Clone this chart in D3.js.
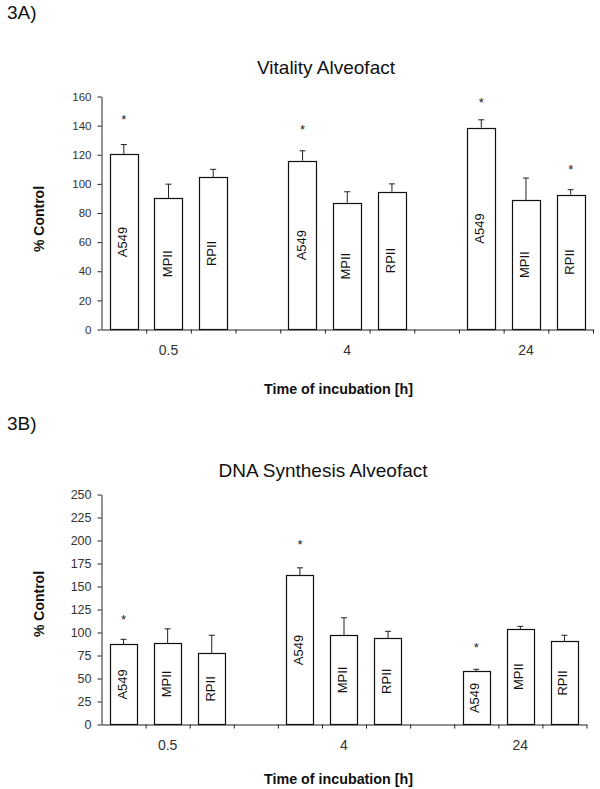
<!DOCTYPE html>
<html><head><meta charset="utf-8">
<script src="https://cdn.jsdelivr.net/npm/d3@7"></script>
<style>
html,body{margin:0;padding:0;background:#fff;}
svg{display:block;font-family:"Liberation Sans",Arial,sans-serif;}
</style></head>
<body>
<svg id="c" width="600" height="789"></svg>
<script>
// ---- data ----
const groups = ["0.5", "4", "24"];
const cells = ["A549", "MPII", "RPII"];
const vitalityTitle = "Vitality Alveofact";
const vitalityTicks = [0, 20, 40, 60, 80, 100, 120, 140, 160];
const vitalityValues = [[120.2, 90.2, 104.4], [115.9, 87.0, 94.6], [138.7, 89.0, 92.7]];
const vitalityErrors = [[6.8, 9.6, 5.6], [6.8, 7.6, 5.4], [5.3, 15.0, 3.3]];
const vitalityStars = [[145.6, null, null], [139.0, null, null], [157.3, null, 111.3]];
const dnaTitle = "DNA Synthesis Alveofact";
const dnaTicks = [0, 25, 50, 75, 100, 125, 150, 175, 200, 225, 250];
const dnaValues = [[87.2, 88.3, 77.4], [162.0, 97.0, 94.0], [57.9, 103.8, 90.4]];
const dnaErrors = [[5.4, 15.7, 19.6], [8.3, 19.0, 7.3], [2.1, 2.9, 6.6]];
const dnaStars = [[117.1, null, null], [198.5, null, null], [86.4, null, null]];
const yLabel = "% Control";
const xLabel = "Time of incubation [h]";

const svg = d3.select("#c");
const FONT = '"Liberation Sans",Arial,sans-serif';

function panel(o) {
  const g = svg.append("g");
  const nSlots = groups.length * 4 - 1;
  const y = d3.scaleLinear().domain([0, o.ticks[o.ticks.length - 1]]).range([o.yBottom, o.yTop]);
  const xb = d3.scaleLinear().domain([0, nSlots]).range([o.xLeft, o.xRight]);
  const band = d3.scaleBand().domain(d3.range(nSlots)).range([o.xLeft, o.xRight])
    .paddingInner(o.pad).paddingOuter(o.pad / 2);

  // panel letter & title
  g.append("text").attr("x", 7).attr("y", o.letterY).attr("font-size", 19).attr("fill", "#111").text(o.letter);
  g.append("text").attr("x", o.titleX).attr("y", o.titleY).attr("text-anchor", "middle")
    .attr("font-size", 19).attr("fill", "#111").text(o.title);

  // y axis
  const ya = g.append("g").attr("transform", `translate(${o.xLeft},0)`)
    .call(d3.axisLeft(y).tickValues(o.ticks).tickSize(4).tickSizeOuter(0).tickPadding(6));
  ya.select(".domain").attr("stroke", "#222");
  ya.selectAll(".tick line").attr("stroke", "#222");
  ya.selectAll(".tick text").attr("font-family", FONT).attr("font-size", o.yTickFont).attr("fill", "#333");

  // x axis (slot boundaries)
  const xa = g.append("g").attr("transform", `translate(0,${o.yBottom})`)
    .call(d3.axisBottom(xb).tickValues(d3.range(1, nSlots + 1)).tickSize(4).tickSizeOuter(0).tickFormat(""));
  xa.select(".domain").attr("stroke", "#222");
  xa.selectAll(".tick line").attr("stroke", "#222");

  // category labels
  g.selectAll(".cat").data(groups).enter().append("text")
    .attr("x", (d, i) => xb(i * 4 + 1.5)).attr("y", o.catY)
    .attr("text-anchor", "middle").attr("font-size", 14).attr("fill", "#333").text(d => d);

  // bars
  const rows = [];
  o.values.forEach((arr, gi) => arr.forEach((v, ci) => rows.push({
    slot: gi * 4 + ci, v, e: o.errors[gi][ci], s: o.stars[gi][ci], name: cells[ci]
  })));
  const bw = band.bandwidth();
  rows.forEach(r => {
    const cx = band(r.slot) + bw / 2;
    // error bar
    g.append("line").attr("x1", cx).attr("x2", cx).attr("y1", y(r.v)).attr("y2", y(r.v + r.e))
      .attr("stroke", "#222").attr("stroke-width", 1);
    g.append("line").attr("x1", cx - 3).attr("x2", cx + 3).attr("y1", y(r.v + r.e)).attr("y2", y(r.v + r.e))
      .attr("stroke", "#222").attr("stroke-width", 1);
    g.append("rect").attr("x", Math.round(band(r.slot)) + 0.5).attr("y", Math.round(y(r.v)) + 0.5)
      .attr("width", Math.round(bw)).attr("height", y(0) - Math.round(y(r.v)) - 0.5)
      .attr("fill", "#fff").attr("stroke", "#111").attr("stroke-width", 1.2);
    const my = (y(r.v) + y(0)) / 2;
    g.append("text").attr("transform", `translate(${cx + 3},${my}) rotate(-90)`)
      .attr("text-anchor", "middle").attr("font-size", 13).attr("fill", "#111").text(r.name);
    if (r.s != null) {
      g.append("text").attr("x", cx).attr("y", y(r.s) + 7).attr("text-anchor", "middle")
        .attr("font-size", 13).attr("fill", "#222").text("*");
    }
  });

  // axis titles
  g.append("text").attr("transform", `translate(${o.yLabelX},${o.yLabelY}) rotate(-90)`)
    .attr("text-anchor", "middle").attr("font-size", 14).attr("font-weight", "bold").attr("fill", "#111").text(yLabel);
  g.append("text").attr("x", 338.5).attr("y", o.xLabelY).attr("text-anchor", "middle")
    .attr("font-size", 14.3).attr("font-weight", "bold").attr("fill", "#111").text(xLabel);
}

panel({
  letter: "3A)", letterY: 18.5, title: vitalityTitle, titleX: 326, titleY: 74,
  ticks: vitalityTicks, values: vitalityValues, errors: vitalityErrors, stars: vitalityStars,
  xLeft: 101.5, xRight: 593, yBottom: 329.5, yTop: 96.5, pad: 0.37,
  yTickFont: 11.5, catY: 355, yLabelX: 44, yLabelY: 219, xLabelY: 393.5
});
panel({
  letter: "3B)", letterY: 430, title: dnaTitle, titleX: 323, titleY: 477,
  ticks: dnaTicks, values: dnaValues, errors: dnaErrors, stars: dnaStars,
  xLeft: 101.5, xRight: 586.5, yBottom: 724.5, yTop: 494.5, pad: 0.38,
  yTickFont: 12.5, catY: 750, yLabelX: 44, yLabelY: 604, xLabelY: 783.5
});
</script>
</body></html>
